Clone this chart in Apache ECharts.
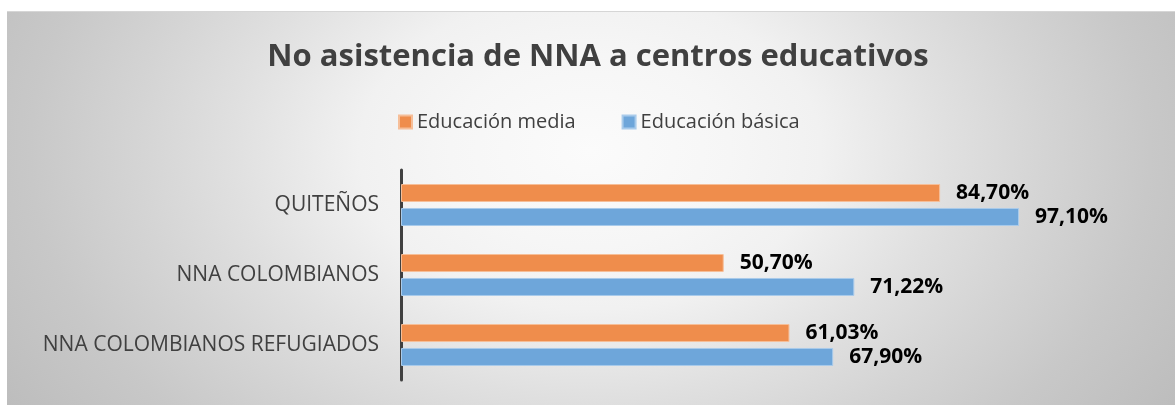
<!DOCTYPE html>
<html>
<head>
<meta charset="utf-8">
<script src="https://cdn.jsdelivr.net/npm/echarts@6/dist/echarts.min.js"></script>
<style>
  html, body { margin: 0; padding: 0; background: #ffffff; width: 1175px; height: 405px; overflow: hidden; }
  #bg {
    position: absolute; left: 7px; top: 11px; width: 1168px; height: 394px;
    border-top: 1px solid #d6d6d6; box-sizing: border-box;
    background: radial-gradient(ellipse 700px 480px at 583px 139px,
      #fbfbfb 0%, #f6f6f6 20%, #f1f1f1 33%, #e0e0e0 51%, #d4d4d4 65%, #c8c8c8 80%, #bcbcbc 100%);
  }
  #chart { position: absolute; left: 0; top: 0; width: 1196px; height: 405px; }
</style>
</head>
<body>
<div id="bg"></div>
<div id="chart"></div>
<script>
const categories = ['QUITEÑOS', 'NNA COLOMBIANOS', 'NNA COLOMBIANOS REFUGIADOS'];
const seriesNames = ['Educación media', 'Educación básica'];
const mediaValues = [84.70, 50.70, 61.03];
const basicaValues = [97.10, 71.22, 67.90];

const fmt = function (p) { return p.value.toFixed(2).replace('.', ',') + '%'; };
const FONT = '"Open Sans", "Noto Sans", sans-serif';

const chart = echarts.init(document.getElementById('chart'), null, { renderer: 'canvas' });
chart.setOption({
  animation: false,
  backgroundColor: 'transparent',
  title: {
    text: 'No asistencia de NNA a centros educativos',
    left: 'center',
    top: 37,
    textStyle: { fontFamily: FONT, fontSize: 31, fontWeight: 'bold', color: '#404040' }
  },
  legend: {
    data: seriesNames,
    left: 398,
    top: 112,
    padding: 0,
    itemWidth: 13,
    itemHeight: 13,
    itemGap: 46,
    icon: 'rect',
    textStyle: { fontFamily: FONT, fontSize: 20, color: '#404040' }
  },
  grid: { left: 401, top: 170, width: 636.5, height: 210, containLabel: false },
  xAxis: {
    type: 'value',
    min: 0,
    max: 100,
    show: false,
    splitLine: { show: false }
  },
  yAxis: {
    type: 'category',
    data: categories,
    inverse: true,
    axisLine: { show: true, lineStyle: { color: '#404040', width: 3 } },
    axisTick: { show: false },
    axisLabel: { margin: 22, fontFamily: FONT, fontSize: 21, color: '#404040' },
    splitLine: { show: false }
  },
  series: [
    {
      name: seriesNames[0],
      type: 'bar',
      data: mediaValues,
      barWidth: 18,
      barGap: '33%',
      itemStyle: { color: '#EF8D4C', borderColor: '#F6BE98', borderWidth: 1 },
      label: {
        show: true, position: 'right', distance: 16, formatter: fmt,
        fontFamily: FONT, fontSize: 21, fontWeight: 'bold', color: '#000000'
      }
    },
    {
      name: seriesNames[1],
      type: 'bar',
      data: basicaValues,
      barWidth: 18,
      barGap: '33%',
      itemStyle: { color: '#6EA6DA', borderColor: '#A9CBEB', borderWidth: 1 },
      label: {
        show: true, position: 'right', distance: 16, formatter: fmt,
        fontFamily: FONT, fontSize: 21, fontWeight: 'bold', color: '#000000'
      }
    }
  ]
});
</script>
</body>
</html>
